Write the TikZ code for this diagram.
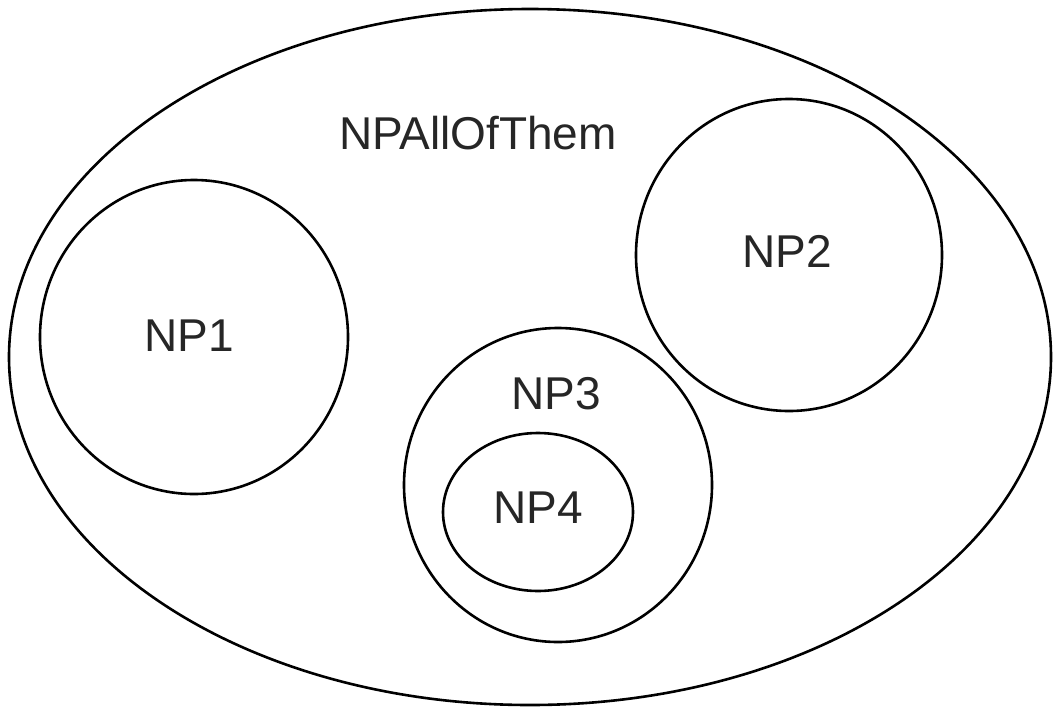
\documentclass[tikz,border=0pt]{standalone}
\usepackage{fontspec}
\setmainfont{Liberation Sans}
\begin{document}
\begin{tikzpicture}[x=1pt,y=-1pt,
  set/.style={draw=black,line width=2.6pt},
  lbl/.style={font=\fontsize{46}{50}\selectfont,text=black!85,inner sep=0pt}]
\useasboundingbox (0,0) rectangle (1055,710);
\fill[white] (0,0) rectangle (1055,710);
\draw[set] (530,357) ellipse [x radius=521, y radius=348];
\draw[set] (194,337) ellipse [x radius=154, y radius=157];
\draw[set] (789,255) ellipse [x radius=153, y radius=156];
\draw[set] (558,485) ellipse [x radius=154, y radius=157];
\draw[set] (538,512) ellipse [x radius=95, y radius=79];
\node[lbl] (all) at (478,133) {NPAllOfThem};
\node[lbl] (np1) at (189,336) {NP1};
\node[lbl] (np2) at (787,251) {NP2};
\node[lbl] (np3) at (556,394) {NP3};
\node[lbl] (np4) at (538,508) {NP4};
\end{tikzpicture}
\end{document}
